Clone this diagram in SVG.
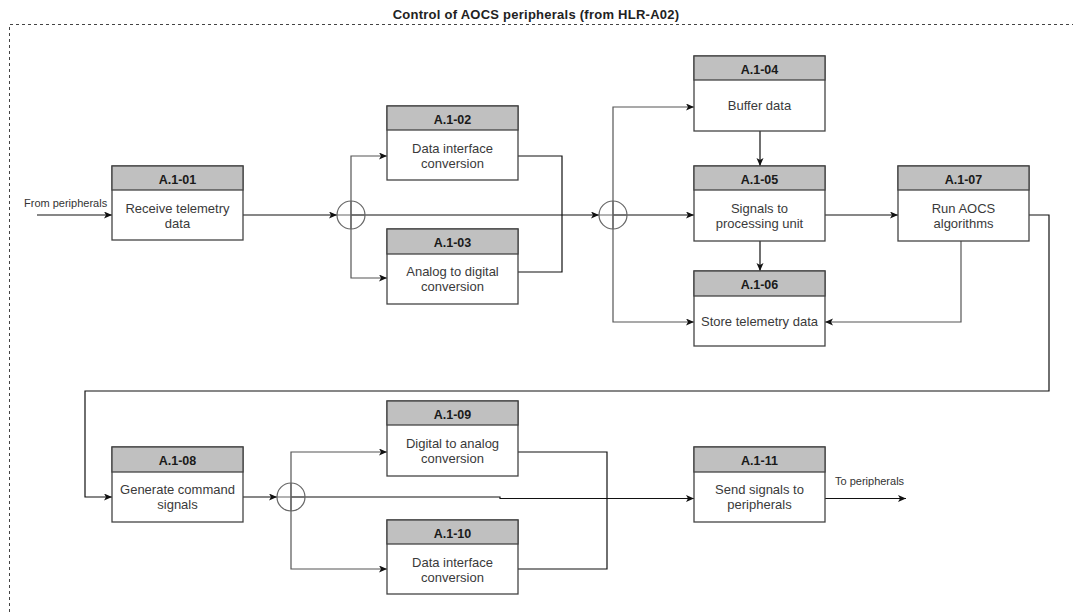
<svg xmlns="http://www.w3.org/2000/svg" width="1075" height="612" viewBox="0 0 1075 612">
  <style>
    .frame { fill: none; stroke: #444; stroke-width: 1; stroke-dasharray: 3 3; }
    .title { font-family: "Liberation Sans", Arial, sans-serif; font-size: 13px; font-weight: bold; fill: #222; letter-spacing: 0.25px; }
    .box { fill: #fff; stroke: #444; stroke-width: 1.3; }
    .hdr { fill: #c0c0c0; stroke: #444; stroke-width: 1.3; }
    .id { font-family: "Liberation Sans", Arial, sans-serif; font-size: 12.5px; font-weight: bold; fill: #1a1a1a; text-anchor: middle; }
    .lbl { font-family: "Liberation Sans", Arial, sans-serif; font-size: 13px; fill: #3a3a3a; text-anchor: middle; }
    .io { font-family: "Liberation Sans", Arial, sans-serif; font-size: 11px; fill: #333; }
    .wire { fill: none; stroke: #111; stroke-width: 1.2; }
    .branch { fill: none; stroke: #555; stroke-width: 1.2; }
    .arr { marker-end: url(#head); }
    .sum { fill: none; stroke: #666; stroke-width: 1.2; }
  </style>
  <defs>
    <marker id="head" markerWidth="9" markerHeight="8" refX="8" refY="3.5" orient="auto" markerUnits="userSpaceOnUse">
      <path d="M0,0 L8,3.5 L0,7 L2,3.5 z" fill="#111"/>
    </marker>
  </defs>

  <rect width="1075" height="612" fill="#fff"/>

  <!-- boundary frame and title -->
  <path class="frame" d="M9.5,612 V24.5 H1073"/>
  <text class="title" x="536" y="19" text-anchor="middle">Control of AOCS peripherals (from HLR-A02)</text>

  <!-- connectors -->
  <g id="connectors">
    <path class="wire arr" d="M37,215 H112"/>
    <path class="wire arr" d="M243,215 H337"/>
    <path class="branch arr" d="M351,215 V156 H387"/>
    <path class="branch arr" d="M351,215 V278 H387"/>
    <path class="wire arr" d="M351,215 H599"/>
    <path class="wire" d="M518,156 H562 V272 H518"/>
    <path class="branch arr" d="M613,215 V107 H694"/>
    <path class="branch arr" d="M613,215 V322 H694"/>
    <path class="wire arr" d="M613,215 H694"/>
    <path class="wire arr" d="M760,131 V166"/>
    <path class="wire arr" d="M760,241 V271"/>
    <path class="wire arr" d="M825,215 H898"/>
    <path class="branch arr" d="M961,241 V322 H825"/>
    <path class="wire arr" d="M1029,215 H1049 V391 H85 V497 H112"/>
    <path class="wire arr" d="M243,497 H277"/>
    <path class="branch arr" d="M291,497 V452 H387"/>
    <path class="branch arr" d="M291,497 V569 H387"/>
    <path class="wire arr" d="M291,497 H500 V498.5 H694"/>
    <path class="wire" d="M518,452 H607 V569 H518"/>
    <path class="wire arr" d="M825,498.5 H906"/>
    <text class="io" x="24" y="207">From peripherals</text>
    <text class="io" x="835" y="485">To peripherals</text>
  </g>

  <!-- summing junctions -->
  <g id="junction-1">
    <circle class="sum" cx="351" cy="215" r="14"/>
    <path class="sum" d="M337,215 H365 M351,201 V229"/>
  </g>
  <g id="junction-2">
    <circle class="sum" cx="613" cy="215" r="14"/>
    <path class="sum" d="M599,215 H627 M613,201 V229"/>
  </g>
  <g id="junction-3">
    <circle class="sum" cx="291" cy="497" r="14"/>
    <path class="sum" d="M277,497 H305 M291,483 V511"/>
  </g>

  <!-- function blocks -->
  <g id="A1-01">
    <rect class="box" x="112" y="166" width="131" height="74"/>
    <rect class="hdr" x="112" y="166" width="131" height="24"/>
    <text class="id" x="177.5" y="184">A.1-01</text>
    <text class="lbl" x="177.5" y="213">Receive telemetry</text>
    <text class="lbl" x="177.5" y="228">data</text>
  </g>
  <g id="A1-02">
    <rect class="box" x="387" y="106" width="131" height="74"/>
    <rect class="hdr" x="387" y="106" width="131" height="24"/>
    <text class="id" x="452.5" y="124">A.1-02</text>
    <text class="lbl" x="452.5" y="153">Data interface</text>
    <text class="lbl" x="452.5" y="168">conversion</text>
  </g>
  <g id="A1-03">
    <rect class="box" x="387" y="229" width="131" height="75"/>
    <rect class="hdr" x="387" y="229" width="131" height="25"/>
    <text class="id" x="452.5" y="247">A.1-03</text>
    <text class="lbl" x="452.5" y="276">Analog to digital</text>
    <text class="lbl" x="452.5" y="291">conversion</text>
  </g>
  <g id="A1-04">
    <rect class="box" x="694" y="56" width="131" height="75"/>
    <rect class="hdr" x="694" y="56" width="131" height="24"/>
    <text class="id" x="759.5" y="74">A.1-04</text>
    <text class="lbl" x="759.5" y="110">Buffer data</text>
  </g>
  <g id="A1-05">
    <rect class="box" x="694" y="166" width="131" height="75"/>
    <rect class="hdr" x="694" y="166" width="131" height="24"/>
    <text class="id" x="759.5" y="184">A.1-05</text>
    <text class="lbl" x="759.5" y="213">Signals to</text>
    <text class="lbl" x="759.5" y="228">processing unit</text>
  </g>
  <g id="A1-06">
    <rect class="box" x="694" y="271" width="131" height="75"/>
    <rect class="hdr" x="694" y="271" width="131" height="25"/>
    <text class="id" x="759.5" y="289">A.1-06</text>
    <text class="lbl" x="759.5" y="326">Store telemetry data</text>
  </g>
  <g id="A1-07">
    <rect class="box" x="898" y="166" width="131" height="75"/>
    <rect class="hdr" x="898" y="166" width="131" height="24"/>
    <text class="id" x="963.5" y="184">A.1-07</text>
    <text class="lbl" x="963.5" y="213">Run AOCS</text>
    <text class="lbl" x="963.5" y="228">algorithms</text>
  </g>
  <g id="A1-08">
    <rect class="box" x="112" y="447" width="131" height="75"/>
    <rect class="hdr" x="112" y="447" width="131" height="25"/>
    <text class="id" x="177.5" y="465">A.1-08</text>
    <text class="lbl" x="177.5" y="494">Generate command</text>
    <text class="lbl" x="177.5" y="509">signals</text>
  </g>
  <g id="A1-09">
    <rect class="box" x="387" y="401" width="131" height="75"/>
    <rect class="hdr" x="387" y="401" width="131" height="24"/>
    <text class="id" x="452.5" y="419">A.1-09</text>
    <text class="lbl" x="452.5" y="448">Digital to analog</text>
    <text class="lbl" x="452.5" y="463">conversion</text>
  </g>
  <g id="A1-10">
    <rect class="box" x="387" y="520" width="131" height="74"/>
    <rect class="hdr" x="387" y="520" width="131" height="24"/>
    <text class="id" x="452.5" y="538">A.1-10</text>
    <text class="lbl" x="452.5" y="567">Data interface</text>
    <text class="lbl" x="452.5" y="582">conversion</text>
  </g>
  <g id="A1-11">
    <rect class="box" x="694" y="447" width="131" height="75"/>
    <rect class="hdr" x="694" y="447" width="131" height="25"/>
    <text class="id" x="759.5" y="465">A.1-11</text>
    <text class="lbl" x="759.5" y="494">Send signals to</text>
    <text class="lbl" x="759.5" y="509">peripherals</text>
  </g>
</svg>
